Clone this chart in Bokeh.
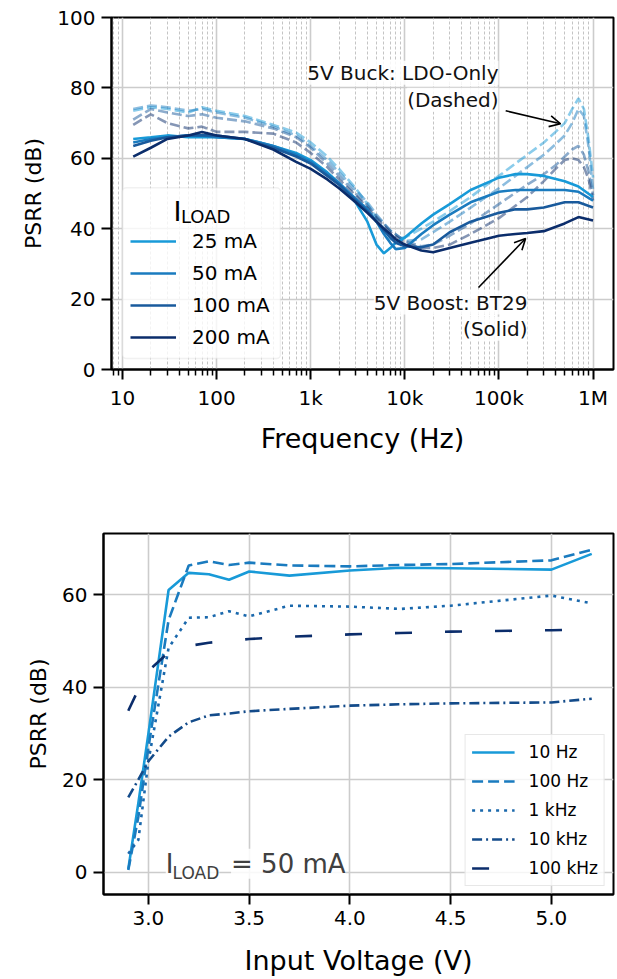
from bokeh.plotting import figure
from bokeh.models import (Range1d, FixedTicker, Legend, LegendItem, Label, Arrow, BoxAnnotation,
                          OpenHead, CustomJSTickFormatter)
from bokeh.embed import file_html
from bokeh.resources import INLINE

FONT = "DejaVu Sans"

# ---------------- Top chart data: PSRR vs frequency ----------------
freq_solid = [13, 20, 30, 50, 70, 100, 200, 400, 700, 1e3, 1.5e3, 2e3, 3e3, 4e3, 5e3, 6e3, 7e3, 8e3,
              1e4, 1.5e4, 2e4, 3e4, 5e4, 1e5, 1.5e5, 2e5, 3e5, 5e5, 7e5, 1e6]
bt29_25mA = [65.5, 66, 66.5, 66, 66, 66, 65.5, 63.5, 61.5, 59.5, 56, 53, 47.5, 42, 35.5, 33, 34.5, 36,
             37.5, 41.5, 44, 47, 51, 54.5, 55.5, 55.5, 55, 53.5, 52, 49]
bt29_50mA = [64.5, 65.5, 66, 66.5, 66.5, 66, 65.5, 63.5, 61, 59, 55.5, 53, 48.5, 45.5, 42, 38.5, 36, 34.2,
             34.5, 38.5, 41, 44, 47.5, 50.5, 51, 51, 51, 51, 50.5, 48]
bt29_100mA = [63.5, 65, 66, 66.5, 66.5, 66.5, 65.5, 63, 60.5, 58.5, 55, 52.5, 48, 45, 42, 39.5, 37.5, 36,
              35, 34.7, 35.5, 39, 42, 44.5, 45.5, 45.5, 46, 47.5, 47.5, 46]
bt29_200mA = [60.5, 63, 65.5, 66.5, 67.5, 66.5, 65.5, 62.5, 59, 57, 54, 51.5, 47.5, 44.5, 42, 40, 38.5, 37,
              35.5, 33.8, 33.3, 34.5, 36, 38, 38.5, 38.8, 39.3, 41.5, 43.3, 42.3]

freq_dashed = [13, 20, 30, 50, 70, 100, 200, 400, 700, 1e3, 1.5e3, 2e3, 3e3, 4e3, 5e3, 7e3, 1e4, 1.5e4,
               2e4, 3e4, 5e4, 1e5, 2e5, 3e5, 4e5, 5e5, 6e5, 7e5, 8e5, 9e5, 1e6]
ldo_25mA = [73.5, 74.5, 74, 73, 74.5, 73.5, 72, 69.5, 67.3, 64.5, 60.5, 57, 51.5, 47, 43, 37, 37.5, 40,
            42, 45, 49, 55, 61, 64.5, 67.5, 70, 74, 77, 74, 65, 54.5]
ldo_50mA = [74, 75, 74.5, 73.5, 74, 73, 71.5, 69, 66.5, 63.5, 59.5, 56, 51, 47.5, 44, 39.5, 36.5, 37,
            39, 42, 46, 51.5, 57.5, 61, 64, 66.5, 70, 74, 72, 63, 51]
ldo_100mA = [71, 74, 73, 72, 72.5, 71.5, 70.5, 68.5, 66, 63, 58.5, 55, 50, 46.5, 43.5, 39.5, 36.5, 35,
             35.5, 38, 41.5, 47, 52.5, 55.5, 58, 60.5, 62.5, 63.5, 61, 56, 49.5]
ldo_200mA = [69.5, 72.5, 70, 68.5, 69, 67.5, 67.5, 67, 64.5, 61.5, 57.5, 54, 49.5, 46, 43, 39, 36, 34.5,
             34.5, 35.5, 38.5, 43, 49, 53.5, 57, 59.5, 60, 59.5, 57.5, 54, 48]

load_labels = ["25 mA", "50 mA", "100 mA", "200 mA"]
load_colors = ["#189ad8", "#1a7bbf", "#195a9c", "#0b2d6b"]
freq_ticks = [10, 100, 1e3, 1e4, 1e5, 1e6]
freq_tick_labels = ["10", "100", "1k", "10k", "100k", "1M"]
psrr_ticks_top = [0, 20, 40, 60, 80, 100]

# ---------------- Bottom chart data: PSRR vs input voltage ----------------
vin = [2.9, 2.95, 3.0, 3.1, 3.2, 3.3, 3.4, 3.5, 3.7, 4.0, 4.25, 4.5, 5.0, 5.2]
psrr_10hz = [0.7, 15, 30, 61, 64.7, 64.4, 63.2, 65, 64.1, 65.2, 65.8, 65.7, 65.4, 68.8]
psrr_100hz = [0.5, 12, 27, 54.5, 66.3, 67.2, 66.4, 66.9, 66.3, 66.1, 66.4, 66.6, 67.4, 69.7]
psrr_1khz = [4.0, 7, 24, 48.5, 55, 55.1, 56.4, 55.3, 57.6, 57.4, 56.9, 57.6, 59.8, 58.1]
psrr_10khz = [16.2, 20, 24, 29.3, 32.4, 33.9, 34.3, 34.8, 35.3, 36.0, 36.3, 36.5, 36.7, 37.5]
psrr_100khz = [34.9, 39.5, 43.5, 47.5, 48.9, 49.6, 50, 50.4, 50.9, 51.4, 51.7, 52, 52.3, 52.5]
freq_labels = ["10 Hz", "100 Hz", "1 kHz", "10 kHz", "100 kHz"]
freq_colors = ["#189ad8", "#1a7bbf", "#1a68ac", "#134b8a", "#0b2d6b"]
freq_dashes = ["solid", "11 5", "3 5", "10 4 2 4", "17 33"]
vin_ticks = [3.0, 3.5, 4.0, 4.5, 5.0]
psrr_ticks_bottom = [0, 20, 40, 60]


def style(p, tick_size="20px"):
    p.outline_line_color = "black"
    p.outline_line_width = 2
    p.outline_line_alpha = 1
    p.background_fill_color = "white"
    p.border_fill_color = "white"
    for ax in p.axis:
        ax.axis_line_width = 2
        ax.axis_line_color = "black"
        ax.major_tick_line_width = 2
        ax.major_tick_line_color = "black"
        ax.major_tick_out = 10
        ax.major_tick_in = 0
        ax.minor_tick_in = 0
        ax.minor_tick_out = 6
        ax.minor_tick_line_width = 1.5
        ax.minor_tick_line_color = "black"
        ax.major_label_text_font = FONT
        ax.major_label_text_font_size = tick_size
        ax.major_label_text_color = "black"
        ax.major_label_standoff = 6
        ax.axis_label_text_font = FONT
        ax.axis_label_text_font_style = "normal"
        ax.axis_label_text_color = "black"
    for ax in p.xaxis:
        ax.axis_label_text_font_size = "27px"
        ax.axis_label_standoff = 10
    for ax in p.yaxis:
        ax.axis_label_text_font_size = "22px"
        ax.axis_label_standoff = 8


# ================= TOP FIGURE =================
p1 = figure(width=616, height=470, x_axis_type="log",
            x_range=Range1d(7.64, 1.65e6), y_range=Range1d(0, 100),
            output_backend="svg", toolbar_location=None,
            min_border_left=111, min_border_right=3, min_border_top=17, min_border_bottom=101)
style(p1)
p1.xaxis.axis_label = "Frequency (Hz)"
p1.yaxis.axis_label = "PSRR (dB)"
minor = [8, 9] + [k * 10 ** d for d in range(1, 6) for k in range(2, 10)]
p1.xaxis.ticker = FixedTicker(ticks=freq_ticks, minor_ticks=minor)
p1.xaxis.formatter = CustomJSTickFormatter(
    args=dict(vals=freq_ticks, labs=freq_tick_labels),
    code="""
    for (let i = 0; i < vals.length; i++) {
        if (Math.abs(Math.log10(tick) - Math.log10(vals[i])) < 1e-6) return labs[i];
    }
    return '';
    """)
p1.yaxis.ticker = FixedTicker(ticks=psrr_ticks_top, minor_ticks=[])
p1.yaxis.minor_tick_out = 0
p1.xgrid.ticker = FixedTicker(ticks=freq_ticks, minor_ticks=minor)
p1.xgrid.grid_line_color = "#cccccc"
p1.xgrid.grid_line_width = 1.6
p1.xgrid.minor_grid_line_color = "#b5b5b5"
p1.xgrid.minor_grid_line_dash = "3 2"
p1.xgrid.minor_grid_line_width = 0.8
p1.ygrid.grid_line_color = "#cccccc"
p1.ygrid.grid_line_width = 1.6

ldo_sets = [ldo_25mA, ldo_50mA, ldo_100mA, ldo_200mA]
bt_sets = [bt29_25mA, bt29_50mA, bt29_100mA, bt29_200mA]
for ys, c in zip(ldo_sets, load_colors):
    p1.line(freq_dashed, ys, line_color=c, line_width=2.6, line_alpha=0.5, line_dash="10 4")
solid_renderers = []
for ys, c in zip(bt_sets, load_colors):
    r = p1.line(freq_solid, ys, line_color=c, line_width=2.6)
    solid_renderers.append(r)

# legend frame drawn as a box so the subscripted title can sit on top of it
p1.add_layout(BoxAnnotation(left=10, right=477, bottom=3.1, top=51.6,
                            fill_color="white", fill_alpha=0.8,
                            line_color="#d0d0d0", line_width=1.5, border_radius=4))
leg1 = Legend(items=[LegendItem(label=l, renderers=[r]) for l, r in zip(load_labels, solid_renderers)],
              location="bottom_left", margin=11, padding=8, spacing=6,
              label_height=26, glyph_height=26, glyph_width=46, label_standoff=16,
              label_text_font=FONT, label_text_font_size="20px", label_text_color="black",
              title="\u00a0", title_text_font_size="26px", title_standoff=4,
              border_line_alpha=0, background_fill_alpha=0)
p1.add_layout(leg1)

p1.add_layout(Label(x=34.8, y=44.8, text="I", text_font=FONT, text_font_size="27px",
                    text_color="black", text_baseline="alphabetic"))
p1.add_layout(Label(x=41.8, y=43.6, text="LOAD", text_font=FONT, text_font_size="18px",
                    text_color="black", text_baseline="alphabetic"))

for txt, yy in [("5V Buck: LDO-Only", 84.3), ("(Dashed)", 76.6)]:
    p1.add_layout(Label(x=99e3, y=yy, text=txt, text_align="right", text_baseline="middle",
                        text_font=FONT, text_font_size="20px", text_color="#111111",
                        background_fill_color="white", background_fill_alpha=0.85))
for txt, yy in [("5V Boost: BT29", 19.0), ("(Solid)", 11.6)]:
    p1.add_layout(Label(x=2.01e5, y=yy, text=txt, text_align="right", text_baseline="middle",
                        text_font=FONT, text_font_size="20px", text_color="#111111",
                        background_fill_color="white", background_fill_alpha=0.85))
p1.add_layout(Arrow(x_start=1.18e5, y_start=73.5, x_end=4.52e5, y_end=69.8,
                    line_width=1.6, line_color="black",
                    end=OpenHead(size=11, line_width=1.6, line_color="black")))
p1.add_layout(Arrow(x_start=6.07e4, y_start=23.3, x_end=1.92e5, y_end=37.2,
                    line_width=1.6, line_color="black",
                    end=OpenHead(size=11, line_width=1.6, line_color="black")))

# ================= BOTTOM FIGURE =================
p2 = figure(width=616, height=508, x_range=Range1d(2.777, 5.308), y_range=Range1d(-4.8, 73.2),
            output_backend="svg", toolbar_location=None,
            min_border_left=103, min_border_right=3, min_border_top=63, min_border_bottom=84)
style(p2)
p2.xaxis.axis_label = "Input Voltage (V)"
p2.xaxis.axis_label_standoff = 17
p2.yaxis.axis_label = "PSRR (dB)"
p2.xaxis.ticker = FixedTicker(ticks=vin_ticks, minor_ticks=[])
p2.xaxis.formatter = CustomJSTickFormatter(code="return tick.toFixed(1);")
p2.yaxis.ticker = FixedTicker(ticks=psrr_ticks_bottom, minor_ticks=[])
for g in (p2.xgrid, p2.ygrid):
    g.grid_line_color = "#cccccc"
    g.grid_line_width = 1.6

rs2 = []
for ys, c, d in zip([psrr_10hz, psrr_100hz, psrr_1khz, psrr_10khz, psrr_100khz], freq_colors, freq_dashes):
    rs2.append(p2.line(vin, ys, line_color=c, line_width=2.6, line_dash=d))

leg2 = Legend(items=[LegendItem(label=l, renderers=[r]) for l, r in zip(freq_labels, rs2)],
              location="bottom_right", margin=8, padding=6, spacing=7,
              label_height=22, glyph_height=22, glyph_width=43, label_standoff=14,
              label_text_font=FONT, label_text_font_size="17px", label_text_color="black",
              border_line_color="#d0d0d0", border_line_width=1.5,
              background_fill_color="white", background_fill_alpha=0.8)
p2.add_layout(leg2)

p2.add_layout(Label(x=3.086, y=-1.4, text="I", text_font=FONT, text_font_size="26px",
                    text_color="#404040", background_fill_color="white", background_fill_alpha=0.85))
p2.add_layout(Label(x=3.12, y=-2.3, text="LOAD", text_font=FONT, text_font_size="17px",
                    text_color="#404040", background_fill_color="white", background_fill_alpha=0.85))
p2.add_layout(Label(x=3.41, y=-1.4, text="= 50 mA", text_font=FONT, text_font_size="26px",
                    text_color="#404040", background_fill_color="white", background_fill_alpha=0.85))

open("out.html", "w").write(file_html([p1, p2], INLINE))
